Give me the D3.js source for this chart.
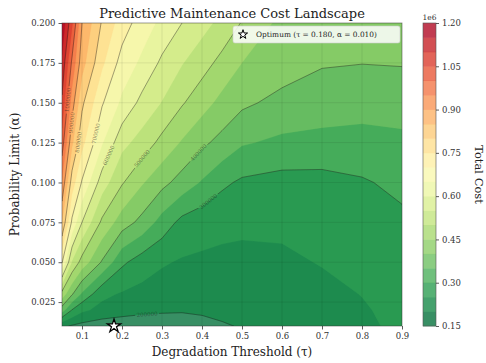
<!DOCTYPE html>
<html>
<head>
<meta charset="utf-8">
<script src="https://cdn.jsdelivr.net/npm/d3@7"></script>
<style>
  body { margin: 0; background: #fff; }
  text { font-family: "DejaVu Serif", serif; }
</style>
</head>
<body>
<svg id="chart" width="486" height="363"></svg>
<script>
// grid the cost surface was read on
const tauValues = [0.05, 0.075, 0.10, 0.15, 0.20, 0.25, 0.30, 0.35, 0.40, 0.45, 0.50, 0.60, 0.70, 0.80, 0.90];
const alphaValues = [0.01, 0.02, 0.03, 0.05, 0.075, 0.10, 0.125, 0.15, 0.175, 0.20];

// total cost (millions) for each alpha row, one value per tau
const costA010 = [0.21, 0.195, 0.185, 0.173, 0.172, 0.175, 0.18, 0.185, 0.19, 0.196, 0.203, 0.215, 0.225, 0.243, 0.258];
const costA020 = [0.375, 0.298, 0.26, 0.235, 0.22, 0.21, 0.205, 0.203, 0.205, 0.21, 0.215, 0.225, 0.235, 0.246, 0.262];
const costA030 = [0.48, 0.405, 0.343, 0.262, 0.245, 0.235, 0.228, 0.225, 0.224, 0.225, 0.227, 0.232, 0.24, 0.251, 0.268];
const costA050 = [0.705, 0.545, 0.48, 0.395, 0.31, 0.275, 0.255, 0.245, 0.242, 0.24, 0.24, 0.243, 0.252, 0.265, 0.278];
const costA075 = [0.85, 0.69, 0.6, 0.49, 0.425, 0.385, 0.33, 0.285, 0.27, 0.262, 0.258, 0.258, 0.265, 0.275, 0.29];
const costA100 = [0.944, 0.775, 0.695, 0.575, 0.505, 0.455, 0.415, 0.38, 0.345, 0.31, 0.292, 0.282, 0.283, 0.295, 0.312];
const costA125 = [1.027, 0.86, 0.765, 0.655, 0.565, 0.53, 0.485, 0.445, 0.41, 0.385, 0.355, 0.34, 0.335, 0.332, 0.339];
const costA150 = [1.09, 0.925, 0.81, 0.705, 0.64, 0.585, 0.548, 0.505, 0.47, 0.435, 0.41, 0.385, 0.375, 0.37, 0.371];
const costA175 = [1.14, 0.99, 0.87, 0.76, 0.68, 0.64, 0.59, 0.553, 0.52, 0.485, 0.45, 0.425, 0.404, 0.401, 0.403];
const costA200 = [1.19, 1.06, 0.9, 0.795, 0.725, 0.675, 0.638, 0.6, 0.568, 0.535, 0.497, 0.435, 0.425, 0.42, 0.42];
const costRows = [costA010, costA020, costA030, costA050, costA075, costA100, costA125, costA150, costA175, costA200];

// contour levels (dollars)
const fillLevels = [150000, 200000, 250000, 300000, 350000, 400000, 450000, 500000, 550000, 600000, 650000,
  700000, 750000, 800000, 850000, 900000, 950000, 1000000, 1050000, 1100000, 1150000, 1200000];
const lineLevels = [200000, 300000, 400000, 500000, 600000, 700000, 800000, 900000, 1000000, 1100000];

const xTicks = [0.1, 0.2, 0.3, 0.4, 0.5, 0.6, 0.7, 0.8, 0.9];
const yTicks = [0.025, 0.05, 0.075, 0.1, 0.125, 0.15, 0.175, 0.2];
const cbTicks = [150000, 300000, 450000, 600000, 750000, 900000, 1050000, 1200000];

const optimumTau = 0.18;
const optimumAlpha = 0.01;

const W = 486, H = 363;
const plot = { left: 62, right: 402, top: 23, bottom: 326 };
const cbBox = { left: 423, right: 436 };
const fillAlpha = 0.8;

const svg = d3.select("#chart");
const defs = svg.append("defs");

const x = d3.scaleLinear().domain([0.05, 0.9]).range([plot.left, plot.right]);
const y = d3.scaleLinear().domain([0.01, 0.2]).range([plot.bottom, plot.top]);

// grid index -> data value (d3.contours puts sample i at i + 0.5)
const gridX = d3.scaleLinear().domain(tauValues.map((d, i) => i + 0.5)).range(tauValues);
const gridY = d3.scaleLinear().domain(alphaValues.map((d, i) => i + 0.5)).range(alphaValues);
const toPixel = (p) => [x(gridX(p[0])), y(gridY(p[1]))];
const path = d3.geoPath(d3.geoTransform({
  point(px, py) { const q = toPixel([px, py]); this.stream.point(q[0], q[1]); }
}));

const values = costRows.flat().map(v => v * 1e6);
const contourGen = d3.contours().size([tauValues.length, alphaValues.length]).smooth(true);

const lo = fillLevels[0], hi = fillLevels[fillLevels.length - 1];
const bandColor = (i) => d3.interpolateRdYlGn(1 - ((fillLevels[i] + fillLevels[i + 1]) / 2 - lo) / (hi - lo));

defs.append("clipPath").attr("id", "plotClip")
  .append("rect")
  .attr("x", plot.left).attr("y", plot.top)
  .attr("width", plot.right - plot.left).attr("height", plot.bottom - plot.top);

// filled bands
const fills = contourGen.thresholds(fillLevels.slice(0, -1))(values);
svg.append("g")
  .attr("clip-path", "url(#plotClip)")
  .selectAll("path")
  .data(fills)
  .join("path")
  .attr("d", path)
  .attr("fill", (d, i) => bandColor(i))
  .attr("fill-opacity", fillAlpha)
  .attr("stroke", (d, i) => bandColor(i))
  .attr("stroke-opacity", fillAlpha)
  .attr("stroke-width", 0.3);

// grid
const gridG = svg.append("g").attr("stroke", "#000").attr("stroke-opacity", 0.1).attr("stroke-width", 0.8);
gridG.selectAll(".gx").data(xTicks.filter(t => t < 0.9)).join("line")
  .attr("x1", d => x(d)).attr("x2", d => x(d)).attr("y1", plot.top).attr("y2", plot.bottom);
gridG.selectAll(".gy").data(yTicks.filter(t => t < 0.2)).join("line")
  .attr("y1", d => y(d)).attr("y2", d => y(d)).attr("x1", plot.left).attr("x2", plot.right);

// contour lines with inline labels
const lines = contourGen.thresholds(lineLevels)(values);
const mask = defs.append("mask").attr("id", "labelMask")
  .attr("maskUnits", "userSpaceOnUse")
  .attr("x", 0).attr("y", 0).attr("width", W).attr("height", H);
mask.append("rect").attr("width", W).attr("height", H).attr("fill", "white");

svg.append("g")
  .attr("clip-path", "url(#plotClip)")
  .append("g")
  .attr("mask", "url(#labelMask)")
  .selectAll("path")
  .data(lines)
  .join("path")
  .attr("d", path)
  .attr("fill", "none")
  .attr("stroke", "#1a1a1a")
  .attr("stroke-opacity", 0.5)
  .attr("stroke-width", 0.8);

function longestVisibleRun(geom) {
  let best = [], bestLen = 0;
  const inside = (q) => q[0] > plot.left + 0.5 && q[0] < plot.right - 0.5 && q[1] > plot.top + 0.5 && q[1] < plot.bottom - 0.5;
  geom.coordinates.forEach(poly => poly.forEach(ring => {
    let run = [];
    const flush = () => {
      let len = 0;
      for (let k = 1; k < run.length; k++) len += Math.hypot(run[k][0] - run[k - 1][0], run[k][1] - run[k - 1][1]);
      if (len > bestLen) { bestLen = len; best = run; }
      run = [];
    };
    ring.forEach(p => {
      const q = toPixel(p);
      if (inside(q)) run.push(q); else flush();
    });
    flush();
  }));
  return { pts: best, len: bestLen };
}

const labelG = svg.append("g");
lines.forEach(geom => {
  const run = longestVisibleRun(geom);
  if (run.pts.length < 2) return;
  let target = run.len * 0.5, acc = 0;
  for (let k = 1; k < run.pts.length; k++) {
    const a = run.pts[k - 1], b = run.pts[k];
    const seg = Math.hypot(b[0] - a[0], b[1] - a[1]);
    if (acc + seg >= target) {
      const t = (target - acc) / seg;
      const px = a[0] + (b[0] - a[0]) * t, py = a[1] + (b[1] - a[1]) * t;
      let ang = Math.atan2(b[1] - a[1], b[0] - a[0]) * 180 / Math.PI;
      if (ang > 90) ang -= 180;
      if (ang < -90) ang += 180;
      const tr = `translate(${px},${py}) rotate(${ang})`;
      const txt = labelG.append("text")
        .attr("transform", tr)
        .attr("text-anchor", "middle")
        .attr("dominant-baseline", "central")
        .attr("font-size", 5.5)
        .attr("fill", "#1a1a1a")
        .attr("fill-opacity", 0.55)
        .text(d3.format("d")(geom.value));
      const tw = txt.node().getComputedTextLength() + 3;
      mask.append("rect")
        .attr("transform", tr)
        .attr("x", -tw / 2).attr("y", -3.5)
        .attr("width", tw).attr("height", 7)
        .attr("fill", "black");
      break;
    }
    acc += seg;
  }
});

// frame
svg.append("rect")
  .attr("x", plot.left).attr("y", plot.top)
  .attr("width", plot.right - plot.left).attr("height", plot.bottom - plot.top)
  .attr("fill", "none").attr("stroke", "#333").attr("stroke-opacity", 0.6).attr("stroke-width", 0.8);

// axes
const xAxis = svg.append("g")
  .attr("transform", `translate(0,${plot.bottom})`)
  .call(d3.axisBottom(x).tickValues(xTicks).tickFormat(d3.format(".1f")).tickSize(3.5).tickPadding(3));
const yAxis = svg.append("g")
  .attr("transform", `translate(${plot.left},0)`)
  .call(d3.axisLeft(y).tickValues(yTicks).tickFormat(d3.format(".3f")).tickSize(3.5).tickPadding(3));
[xAxis, yAxis].forEach(a => {
  a.select(".domain").remove();
  a.selectAll(".tick line").attr("stroke", "#333").attr("stroke-width", 0.8);
  a.selectAll(".tick text").attr("font-family", "DejaVu Serif").attr("font-size", 8.5).attr("fill", "#333");
});

// optimum marker
svg.append("path")
  .attr("d", d3.symbol(d3.symbolStar).size(55)())
  .attr("transform", `translate(${x(optimumTau)},${y(optimumAlpha)})`)
  .attr("fill", "white").attr("stroke", "black").attr("stroke-width", 1.3);

// legend
const legend = svg.append("g");
legend.append("rect")
  .attr("x", 233).attr("y", 26).attr("width", 167).attr("height", 17).attr("rx", 2)
  .attr("fill", "white").attr("fill-opacity", 0.85).attr("stroke", "#ccc").attr("stroke-width", 0.6);
legend.append("path")
  .attr("d", d3.symbol(d3.symbolStar).size(26)())
  .attr("transform", "translate(243,34.5)")
  .attr("fill", "white").attr("stroke", "black").attr("stroke-width", 1);
legend.append("text")
  .attr("x", 256).attr("y", 34.5).attr("dominant-baseline", "central")
  .attr("font-size", 7.4).attr("fill", "#222")
  .text(`Optimum (τ = ${d3.format(".3f")(optimumTau)}, α = ${d3.format(".3f")(optimumAlpha)})`);

// titles
svg.append("text").attr("x", (plot.left + plot.right) / 2).attr("y", 18)
  .attr("text-anchor", "middle").attr("font-size", 13).attr("fill", "#222")
  .text("Predictive Maintenance Cost Landscape");
svg.append("text").attr("x", (plot.left + plot.right) / 2).attr("y", 356)
  .attr("text-anchor", "middle").attr("font-size", 12).attr("fill", "#222")
  .text("Degradation Threshold (τ)");
svg.append("text")
  .attr("transform", `translate(19,${(plot.top + plot.bottom) / 2}) rotate(-90)`)
  .attr("text-anchor", "middle").attr("font-size", 12).attr("fill", "#222")
  .text("Probability Limit (α)");

// colorbar
const cb = d3.scaleLinear().domain([lo, hi]).range([plot.bottom, plot.top]);
const cbG = svg.append("g");
cbG.selectAll("rect")
  .data(fillLevels.slice(0, -1))
  .join("rect")
  .attr("x", cbBox.left).attr("width", cbBox.right - cbBox.left)
  .attr("y", (d, i) => cb(fillLevels[i + 1]))
  .attr("height", (d, i) => cb(fillLevels[i]) - cb(fillLevels[i + 1]) + 0.3)
  .attr("fill", (d, i) => bandColor(i))
  .attr("fill-opacity", fillAlpha);
cbG.append("rect")
  .attr("x", cbBox.left).attr("y", plot.top)
  .attr("width", cbBox.right - cbBox.left).attr("height", plot.bottom - plot.top)
  .attr("fill", "none").attr("stroke", "#555").attr("stroke-width", 0.6);
const cbAxis = svg.append("g")
  .attr("transform", `translate(${cbBox.right},0)`)
  .call(d3.axisRight(cb).tickValues(cbTicks).tickFormat(d => d3.format(".2f")(d / 1e6)).tickSize(3).tickPadding(3));
cbAxis.select(".domain").remove();
cbAxis.selectAll(".tick line").attr("stroke", "#333").attr("stroke-width", 0.8);
cbAxis.selectAll(".tick text").attr("font-family", "DejaVu Serif").attr("font-size", 8.5).attr("fill", "#333");
svg.append("text").attr("x", (cbBox.left + cbBox.right) / 2).attr("y", 20)
  .attr("text-anchor", "middle").attr("font-size", 7.5).attr("fill", "#333")
  .text("1e6");
svg.append("text")
  .attr("transform", `translate(475,${(plot.top + plot.bottom) / 2}) rotate(90)`)
  .attr("text-anchor", "middle").attr("font-size", 11.5).attr("fill", "#222")
  .text("Total Cost");
</script>
</body>
</html>
